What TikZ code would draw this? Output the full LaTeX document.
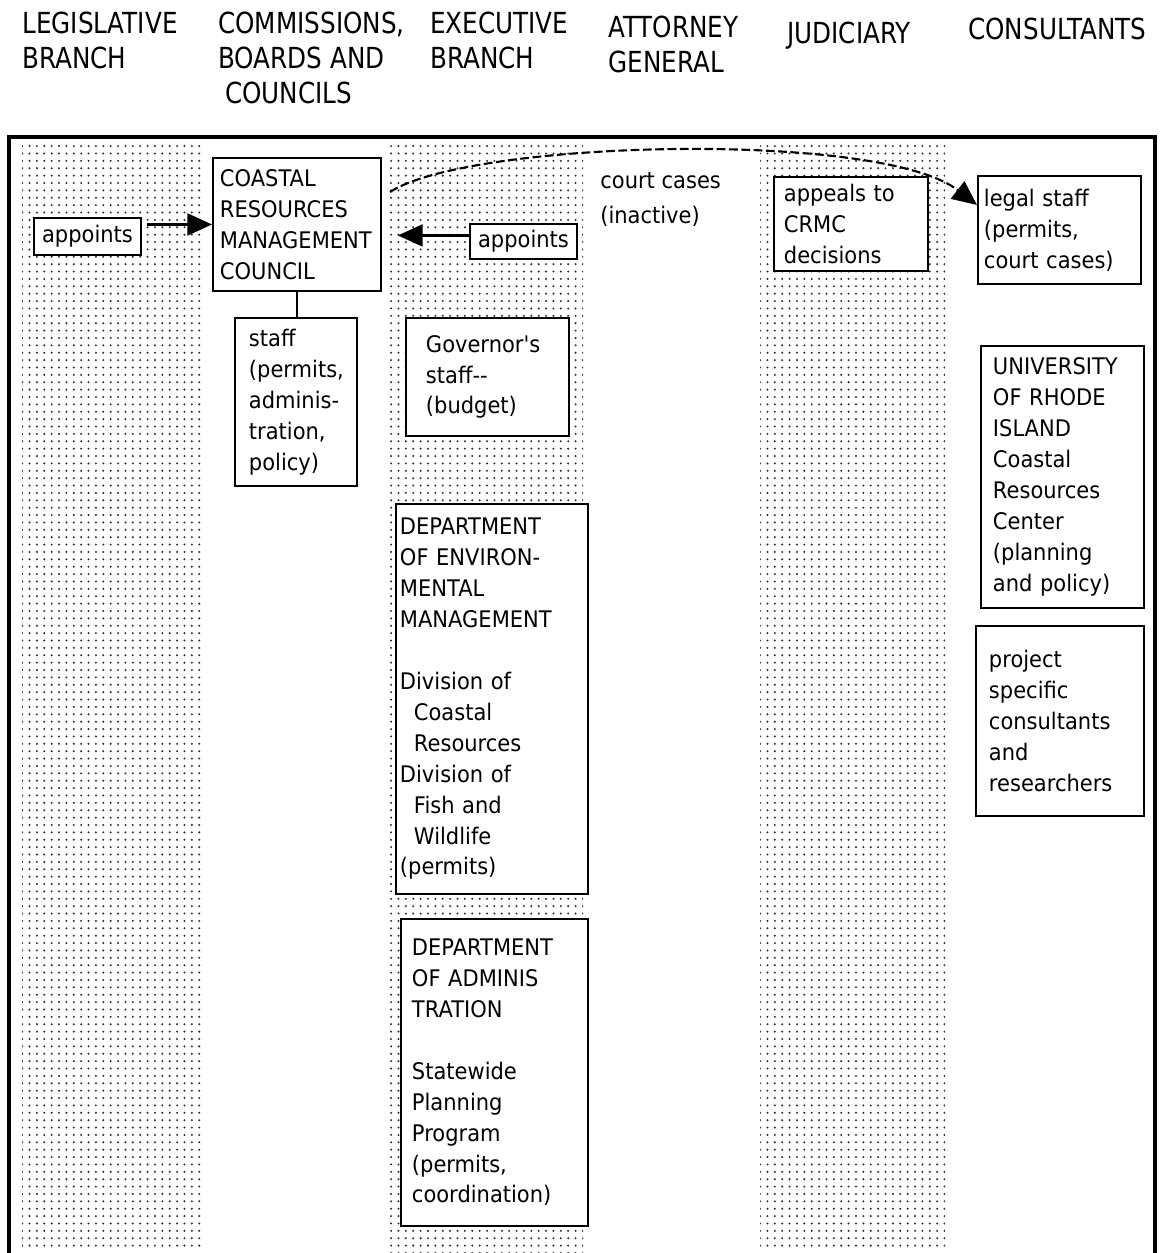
\documentclass[tikz,border=0pt]{standalone}
\usepackage{fontspec}
\usepackage{tikz}
\usetikzlibrary{arrows.meta,patterns.meta,calc}
\newfontfamily\orgfont[FakeStretch=0.92]{DejaVu Sans}
\newfontfamily\colfont[FakeStretch=0.85]{DejaVu Sans}
\newcommand{\subind}{\hspace*{0.28cm}}
\tikzset{
  orgbox/.style={
    draw=black,
    fill=white,
    line width=1.1pt,
    anchor=north west,
    align=left,
    inner ysep=0pt,
    font=\orgfont\fontsize{13}{17.6}\selectfont
  },
  tagbox/.style={
    draw=black,
    fill=white,
    line width=1.1pt,
    anchor=north west,
    inner sep=0pt,
    minimum width=2.14cm,
    font=\orgfont\fontsize{13}{17.6}\selectfont
  },
  notetext/.style={
    anchor=north west,
    align=left,
    inner sep=0pt,
    font=\orgfont\fontsize{13}{19.8}\selectfont
  },
  colhead/.style={
    anchor=north west,
    align=left,
    inner sep=0pt,
    font=\colfont\fontsize{16.5}{19.8}\selectfont
  },
  stipple/.style={pattern={Dots[distance=4.2pt,radius=0.65pt]}, pattern color=black!80},
  orgarrow/.style={-{Triangle[length=14pt,width=12.5pt]}, line width=1.2pt}
}
\begin{document}
\begin{tikzpicture}[x=0.02cm,y=-0.02cm]
  \useasboundingbox (0,0) rectangle (1161,1253);
  \fill[stipple] (22,142) rectangle (203,1248);
  \fill[stipple] (390,142) rectangle (583,1252);
  \fill[stipple] (760,142) rectangle (945,1246);
  \draw[line width=2.2pt] (9,1253) -- (9,137) -- (1155,137) -- (1155,1253);

  \node[colhead] (hleg) at (22,12) {LEGISLATIVE\\BRANCH};
  \node[colhead] (hcom) at (218,12) {COMMISSIONS,\\BOARDS AND\\\hspace*{0.14cm}COUNCILS};
  \node[colhead] (hexe) at (430,12) {EXECUTIVE\\BRANCH};
  \node[colhead] (hatt) at (608,16) {ATTORNEY\\GENERAL};
  \node[colhead] (hjud) at (787,22) {JUDICIARY};
  \node[colhead] (hcon) at (968,18) {CONSULTANTS};

  \node[tagbox, minimum height=0.74cm] (appL) at (33,217) {appoints};
  \node[tagbox, minimum height=0.70cm] (appE) at (469,223) {appoints};
  \node[orgbox, inner xsep=0.14cm, text width=3.08cm, minimum height=2.66cm] (crmc) at (212,157)
    {COASTAL\\RESOURCES\\MANAGEMENT\\COUNCIL};
  \node[orgbox, inner xsep=0.28cm, text width=1.88cm, minimum height=3.36cm] (staff) at (234,317)
    {staff\\(permits,\\adminis-\\tration,\\policy)};
  \node[orgbox, inner xsep=0.40cm, text width=2.46cm, minimum height=2.36cm] (gov) at (405,317)
    {Governor's\\staff-{}-\\(budget)};
  \node[notetext] (court) at (600,172) {court~cases\\(inactive)};
  \node[orgbox, inner xsep=0.20cm, text width=2.68cm, minimum height=1.88cm] (appeal) at (773,176)
    {appeals~to\\CRMC\\decisions};
  \node[orgbox, inner xsep=0.12cm, text width=3.02cm, minimum height=2.16cm] (legal) at (977,175)
    {legal~staff\\(permits,\\court~cases)};
  \node[orgbox, inner xsep=0.24cm, text width=2.78cm, minimum height=5.24cm] (uri) at (980,345)
    {UNIVERSITY\\OF~RHODE\\ISLAND\\Coastal\\Resources\\Center\\(planning\\and~policy)};
  \node[orgbox, inner xsep=0.26cm, text width=2.84cm, minimum height=3.80cm] (proj) at (975,625)
    {project\\specific\\consultants\\and\\researchers};
  \node[orgbox, inner xsep=0.08cm, text width=3.68cm, minimum height=7.80cm] (dem) at (395,503)
    {DEPARTMENT\\OF~ENVIRON-\\MENTAL\\MANAGEMENT\\[17.6pt]Division~of\\\subind Coastal\\\subind Resources\\Division~of\\\subind Fish~and\\\subind Wildlife\\(permits)};
  \node[orgbox, inner xsep=0.22cm, text width=3.30cm, minimum height=6.14cm] (doa) at (400,918)
    {DEPARTMENT\\OF~ADMINIS\\TRATION\\[17.6pt]Statewide\\Planning\\Program\\(permits,\\coordination)};

  \draw[orgarrow, shorten <=3pt] (appL.east |- crmc.west) -- (crmc.west);
  \draw[orgarrow, shorten >=0.32cm] ([yshift=0.12cm]appE.west) -- ([yshift=0.12cm]appE.west -| crmc.east);
  \draw[line width=1pt] (crmc.south) -- (crmc.south |- staff.north);
  \coordinate (ccfrom) at (390,192);
  \draw[orgarrow, dash pattern=on 5pt off 2pt] (ccfrom) .. controls (470,140) and (880,130) .. ([yshift=-0.6cm]legal.north west);
\end{tikzpicture}
\end{document}
